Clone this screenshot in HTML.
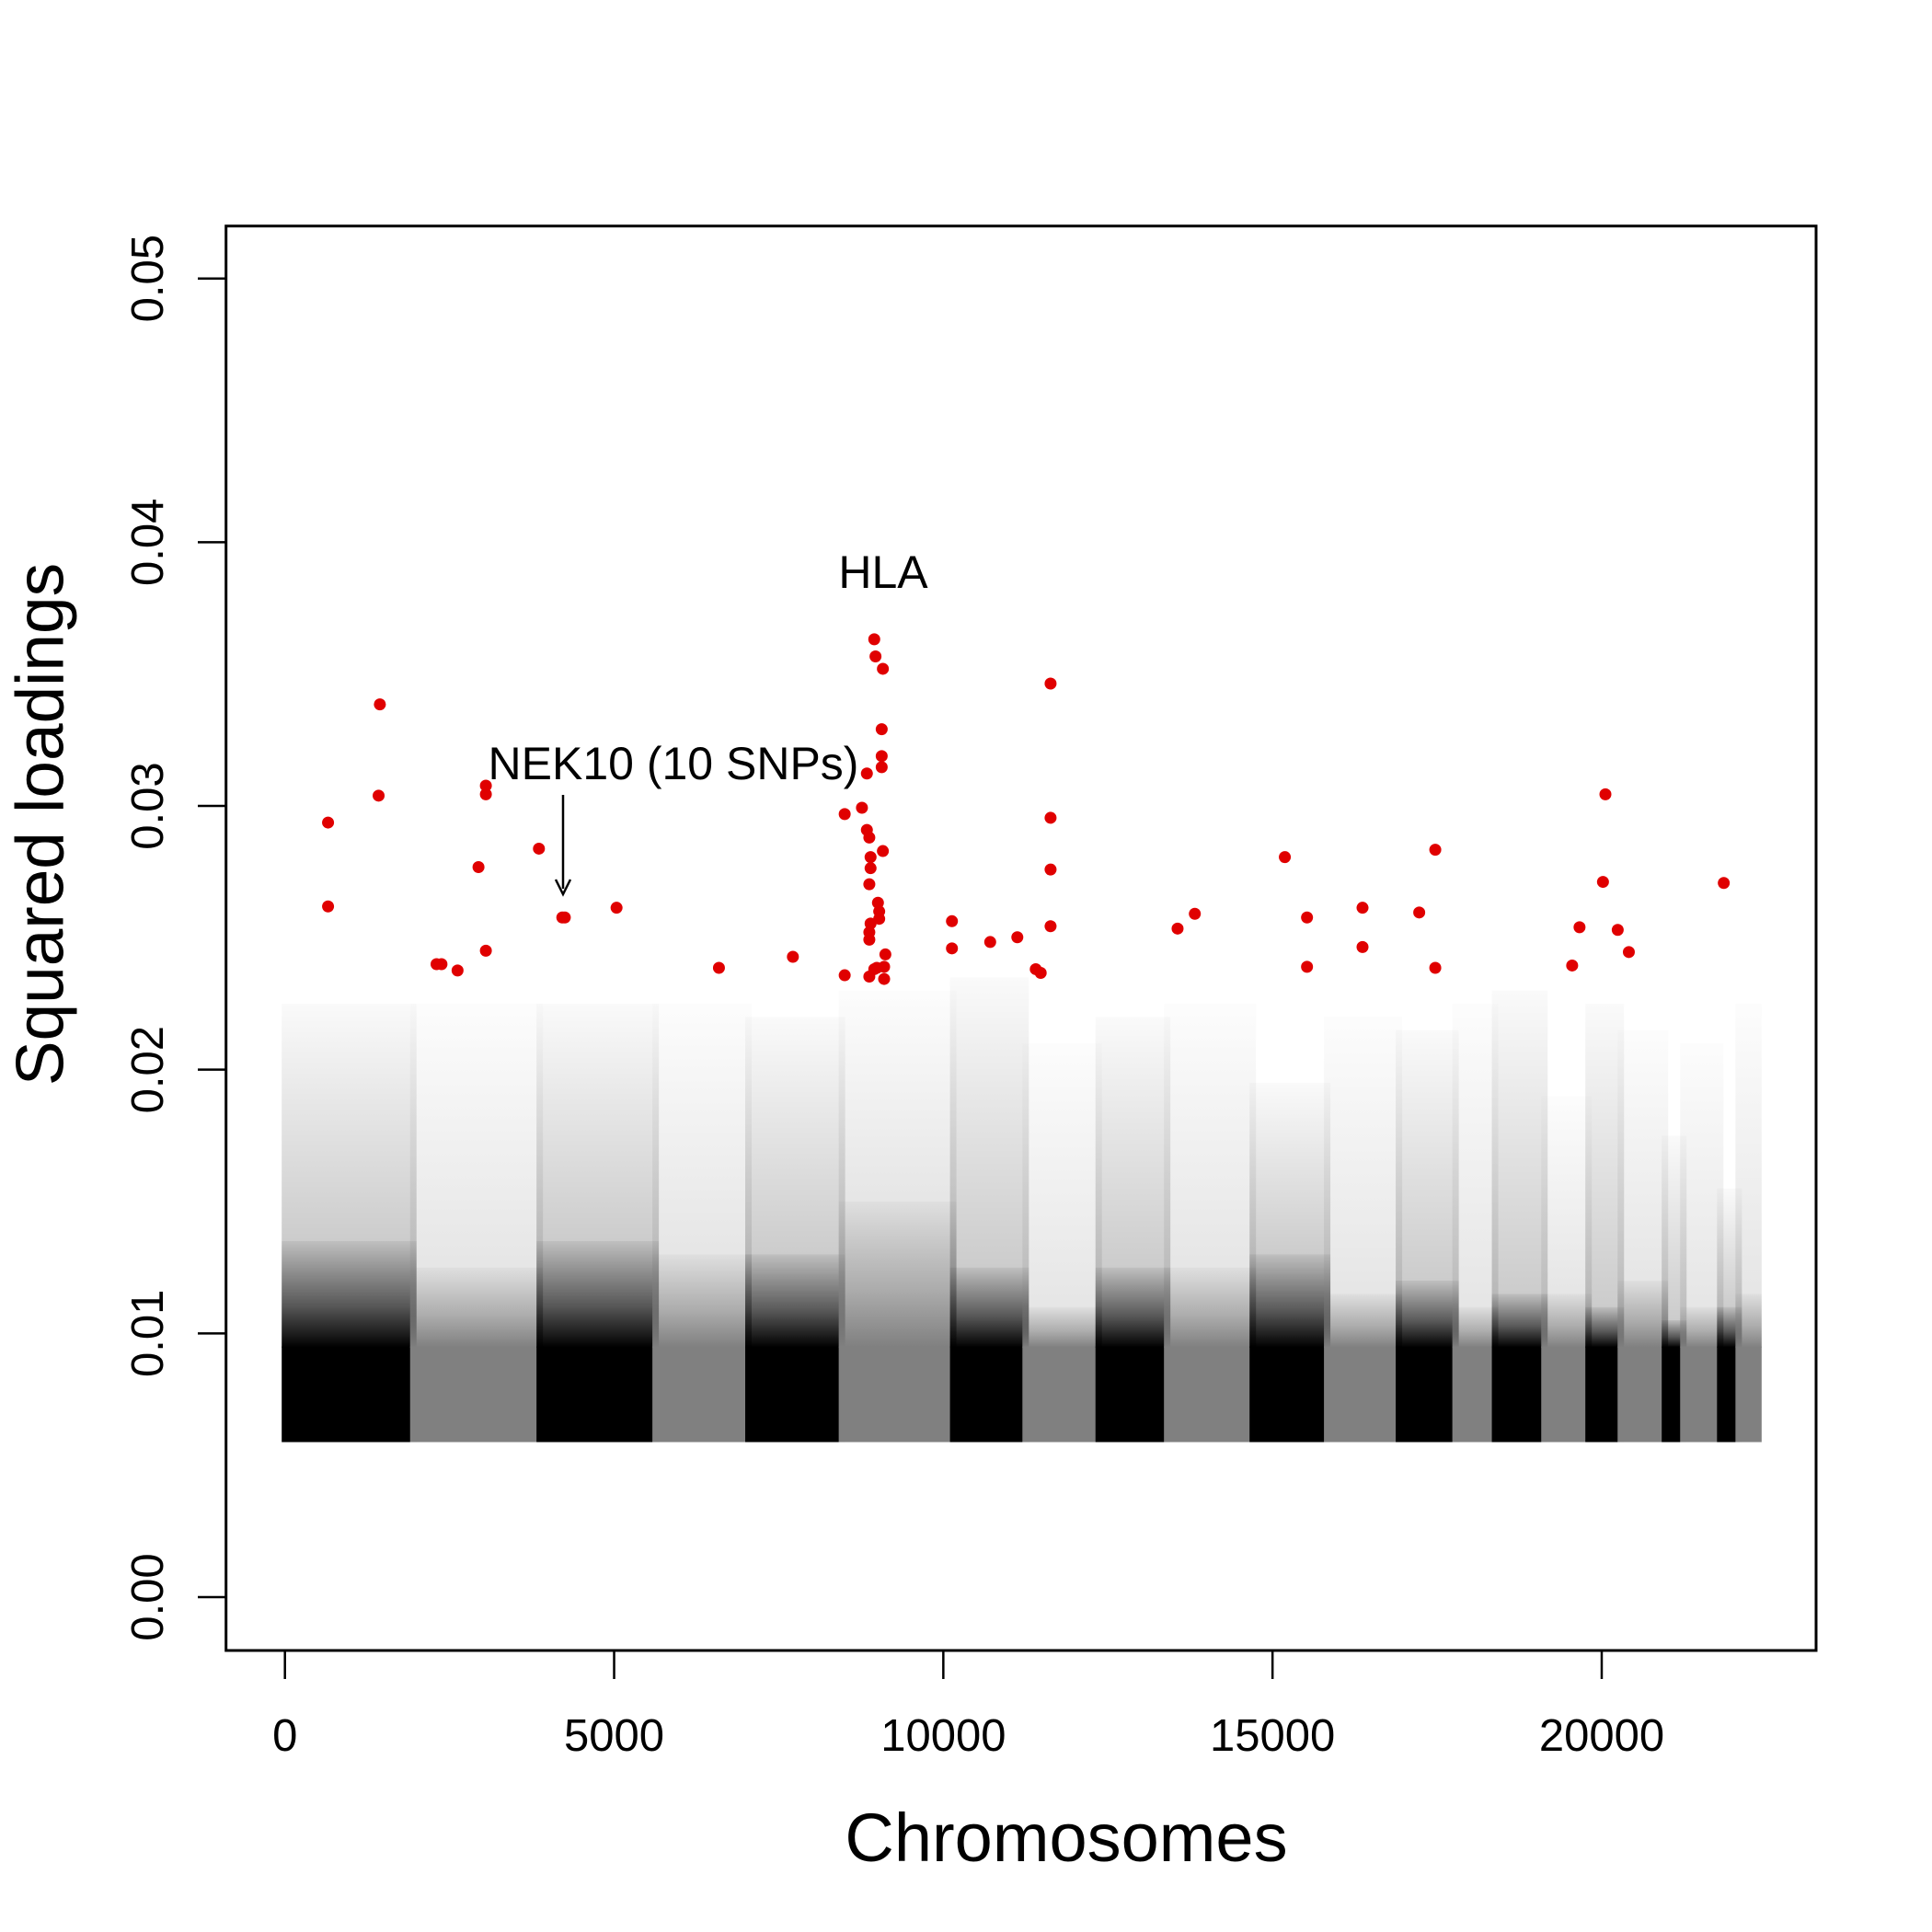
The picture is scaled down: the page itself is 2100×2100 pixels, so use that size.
<!DOCTYPE html>
<html><head><meta charset="utf-8"><style>
html,body{margin:0;padding:0;background:#fff}
svg{display:block;font-family:"Liberation Sans",Arial,sans-serif}
</style></head><body>
<svg id="chart" width="2100" height="2100" viewBox="0 0 2100 2100" xmlns="http://www.w3.org/2000/svg">
<defs>
<linearGradient id="gBlack" x1="0" y1="1" x2="0" y2="0"><stop offset="0" stop-color="#000" stop-opacity="1"/><stop offset="0.4" stop-color="#000" stop-opacity="0.65"/><stop offset="1" stop-color="#000" stop-opacity="0.25"/></linearGradient>
<linearGradient id="gGray" x1="0" y1="1" x2="0" y2="0"><stop offset="0" stop-color="#808080" stop-opacity="1"/><stop offset="0.4" stop-color="#808080" stop-opacity="0.65"/><stop offset="1" stop-color="#808080" stop-opacity="0.25"/></linearGradient>
<linearGradient id="sBlack" x1="0" y1="1" x2="0" y2="0"><stop offset="0" stop-color="#000" stop-opacity="0.2"/><stop offset="1" stop-color="#000" stop-opacity="0.02"/></linearGradient>
<linearGradient id="sGray" x1="0" y1="1" x2="0" y2="0"><stop offset="0" stop-color="#808080" stop-opacity="0.2"/><stop offset="1" stop-color="#808080" stop-opacity="0.02"/></linearGradient>
</defs>
<g id="marks"></g>
<rect x="245.7" y="245.7" width="1728.3" height="1548.3" fill="none" stroke="#000" stroke-width="3"/>
<g id="axes"></g>
<text x="44" y="896" font-size="73" text-anchor="middle" dominant-baseline="central" transform="rotate(-90 44 896)">Squared loadings</text>
<text x="1159" y="2023" font-size="74" text-anchor="middle">Chromosomes</text>
<text x="960" y="639" font-size="50" text-anchor="middle">HLA</text>
<text x="732" y="847" font-size="50" text-anchor="middle">NEK10 (10 SNPs)</text>
<g>
<line x1="612" y1="864" x2="612" y2="966" stroke="#000" stroke-width="2.5"/>
<path d="M604,956 L612,972 L620,956" fill="none" stroke="#000" stroke-width="2.5"/>
</g>
</svg>
<script>
// chromosome segments (SNP index ranges)
const chrStart = [0,1950,3870,5630,7040,8460,10150,11250,12360,13400,14700,15830,16920,17780,18380,19130,19800,20290,20960,21240,21800,22080];
const chrEnd   = [1950,3870,5630,7040,8460,10150,11250,12360,13400,14700,15830,16920,17780,18380,19130,19800,20290,20960,21240,21800,22080,22380];
const chrFuzzyTop = [0.0135,0.0125,0.0135,0.013,0.013,0.015,0.0125,0.011,0.0125,0.0125,0.013,0.0115,0.012,0.011,0.0115,0.0115,0.011,0.012,0.0105,0.011,0.011,0.0115];
const chrMax = [0.0225,0.0225,0.0225,0.0225,0.022,0.023,0.0235,0.021,0.022,0.0225,0.0195,0.022,0.0215,0.0225,0.023,0.019,0.0225,0.0215,0.0175,0.021,0.0155,0.0225];
const baseMin = 0.006;
const solidTop = 0.0095;
// highlighted SNPs
const redX = [655,655,1442,1423,2303,2378,2622,2940,3052,3052,3052,3858,4213,4251,5037,6592,7715,8502,8502,8764,8839,8839,8876,8895,8895,8876,8895,8876,8876,8876,8951,8970,9082,9064,9064,9064,9082,9007,9026,9026,9120,9101,8989,9101,8951,10131,10131,10712,11124,11404,11479,11629,11629,11629,11629,13558,13820,15187,15524,15524,16367,16367,17228,17472,17472,19551,19663,20056,20019,20243,20412,21854];
const redY = [0.02937,0.02619,0.03385,0.03039,0.0240,0.0240,0.02376,0.02768,0.03077,0.03044,0.02451,0.02838,0.02577,0.02577,0.02614,0.02386,0.02428,0.02969,0.02358,0.02993,0.03123,0.02909,0.0288,0.02806,0.02764,0.02703,0.02554,0.02521,0.02493,0.02353,0.03632,0.03567,0.0352,0.03291,0.03189,0.03147,0.02829,0.02633,0.026,0.02572,0.02437,0.0239,0.02386,0.02344,0.02381,0.02563,0.0246,0.02484,0.02502,0.02381,0.02367,0.03464,0.02955,0.02759,0.02544,0.02535,0.02591,0.02806,0.02577,0.0239,0.02614,0.02465,0.02596,0.02834,0.02386,0.02395,0.0254,0.03044,0.02712,0.0253,0.02446,0.02708];
const xTicks = [0,5000,10000,15000,20000];
const xTickLabels = ["0","5000","10000","15000","20000"];
const yTicks = [0,0.01,0.02,0.03,0.04,0.05];
const yTickLabels = ["0.00","0.01","0.02","0.03","0.04","0.05"];

const NS='http://www.w3.org/2000/svg';
function X(v){return 309.7 + v*(1741-309.7)/20000;}
function Y(v){return 1736 - v*(1736-302.7)/0.05;}
function mk(tag,attrs,parent){const e=document.createElementNS(NS,tag);for(const k in attrs)e.setAttribute(k,attrs[k]);parent.appendChild(e);return e;}
const marks=document.getElementById('marks');
const axes=document.getElementById('axes');
const pad=3.5;
for(let i=0;i<chrStart.length;i++){
  const black = i%2===0;
  const col = black?'#000':'#808080';
  const g=mk('g',{},marks);
  
  
  const x0=X(chrStart[i])-pad, x1=X(chrEnd[i])+pad, w=x1-x0;
  const r3=mk('rect',{x:x0,y:Y(chrMax[i]),width:w,height:Y(chrFuzzyTop[i])-Y(chrMax[i]),fill:black?'url(#sBlack)':'url(#sGray)'},g);
  
  
  const r2=mk('rect',{x:x0,y:Y(chrFuzzyTop[i]),width:w,height:Y(solidTop)-Y(chrFuzzyTop[i])+1,fill:black?'url(#gBlack)':'url(#gGray)'},g);
  
  
  const r1=mk('rect',{x:x0,y:Y(solidTop),width:w,height:Y(baseMin)-Y(solidTop)+pad,fill:col},g);
  
  
}
const rg=mk('g',{},marks);


for(let i=0;i<redX.length;i++){
  const c=mk('circle',{cx:X(redX[i]),cy:Y(redY[i]),r:6.5,fill:'#e00000'},rg);
  
  
}
for(let i=0;i<xTicks.length;i++){
  const l=mk('line',{x1:X(xTicks[i]),x2:X(xTicks[i]),y1:1794,y2:1825,stroke:'#000','stroke-width':2.5},axes);
  
  
  const t=mk('text',{x:X(xTicks[i]),y:1903,'font-size':49,'text-anchor':'middle'},axes);
  t.textContent=xTickLabels[i];
  
  
}
for(let i=0;i<yTicks.length;i++){
  const y=Y(yTicks[i]);
  const l=mk('line',{x1:215,x2:246,y1:y,y2:y,stroke:'#000','stroke-width':2.5},axes);
  
  
  const t=mk('text',{x:177,y:y,'font-size':49,'text-anchor':'middle',transform:'rotate(-90 177 '+y+')'},axes);
  t.textContent=yTickLabels[i];
  
  
}
</script>
</body></html>
